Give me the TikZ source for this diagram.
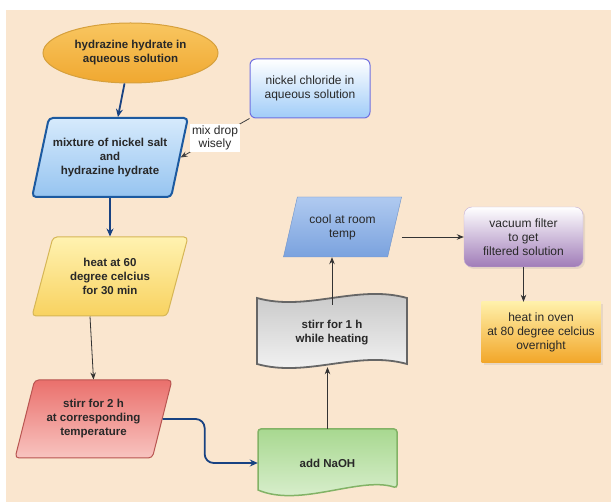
\documentclass[tikz,border=0pt]{standalone}
\usepackage{fontspec}
\setmainfont{Liberation Sans}
\usetikzlibrary{shapes.geometric,arrows.meta,shadows,calc}
\definecolor{bg}{RGB}{250,230,207}
\definecolor{elltop}{RGB}{248,198,96}
\definecolor{ellbot}{RGB}{240,168,48}
\definecolor{ellborder}{RGB}{214,160,60}
\definecolor{mixtop}{RGB}{214,234,252}
\definecolor{mixbot}{RGB}{150,196,240}
\definecolor{mixborder}{RGB}{28,90,160}
\definecolor{nictop}{RGB}{255,255,255}
\definecolor{nicbot}{RGB}{160,204,248}
\definecolor{nicborder}{RGB}{112,112,224}
\definecolor{heattop}{RGB}{255,242,176}
\definecolor{heatbot}{RGB}{248,210,96}
\definecolor{heatborder}{RGB}{214,182,86}
\definecolor{redtop}{RGB}{234,112,108}
\definecolor{redbot}{RGB}{248,196,192}
\definecolor{redborder}{RGB}{184,84,80}
\definecolor{greentop}{RGB}{168,216,144}
\definecolor{greenbot}{RGB}{224,242,214}
\definecolor{greenborder}{RGB}{130,179,102}
\definecolor{graytop}{RGB}{196,196,196}
\definecolor{graybot}{RGB}{246,246,246}
\definecolor{grayborder}{RGB}{102,102,102}
\definecolor{cooltop}{RGB}{176,202,240}
\definecolor{coolbot}{RGB}{122,162,222}
\definecolor{purptop}{RGB}{255,255,255}
\definecolor{purpbot}{RGB}{160,124,184}
\definecolor{oventop}{RGB}{255,240,170}
\definecolor{ovenbot}{RGB}{242,166,40}
\definecolor{arrowblue}{RGB}{24,66,130}
\definecolor{txtc}{RGB}{40,40,40}
\begin{document}
\begin{tikzpicture}[x=1pt,y=-1pt,
  txt/.style={font=\fontsize{12}{14}\selectfont, align=center, text=txtc},
  btxt/.style={font=\fontsize{11.5}{14}\selectfont\bfseries, align=center, text=txtc},
  para/.style={trapezium, trapezium left angle=68, trapezium right angle=112,
    trapezium stretches=true, inner sep=0pt},
  barrow/.style={draw=arrowblue, line width=1.8pt, -{Stealth[length=8pt,width=7pt]}},
  tarrow/.style={draw=black!80, line width=0.8pt, -{Stealth[length=7pt,width=5.5pt]}},
  softshadow/.style={drop shadow={opacity=0.15, shadow xshift=2pt, shadow yshift=-2pt}}]
\useasboundingbox[fill=white] (0,0) rectangle (611,502);
\fill[bg] (6,10) rectangle (611,502);

% nodes
\node[ellipse, btxt, minimum width=175, minimum height=60, inner sep=0pt,
  draw=ellborder, line width=1pt, top color=elltop, bottom color=ellbot]
  (hyd) at (130.5,53) {hydrazine hydrate in\\aqueous solution};

\node[rectangle, rounded corners=6, txt, minimum width=120, minimum height=59,
  draw=nicborder, line width=1pt, top color=nictop, bottom color=nicbot]
  (nic) at (310,88.5) {nickel chloride in\\aqueous solution};

\node[para, btxt, minimum width=156, minimum height=79, rounded corners=4,
  draw=mixborder, line width=2pt, top color=mixtop, bottom color=mixbot]
  (mix) at (110,157.5) {mixture of nickel salt\\and\\hydrazine hydrate};

\node[para, btxt, minimum width=156, minimum height=79, rounded corners=4,
  draw=heatborder, line width=1pt, top color=heattop, bottom color=heatbot]
  (heat) at (110,276.5) {heat at 60\\degree celcius\\for 30 min};

\node[para, btxt, minimum width=157, minimum height=78, rounded corners=4,
  draw=redborder, line width=1pt, top color=redtop, bottom color=redbot]
  (stir2) at (93.5,419) {stirr for 2 h\\at corresponding\\temperature};

% add NaOH (document shape)
\shade[top color=greentop, bottom color=greenbot, draw=greenborder, line width=1.5pt,
  rounded corners=3]
  (258,490) -- (258,429) -- (397,429) -- (397,488) [sharp corners]
  .. controls (360,476) and (300,508) .. (258,490) -- cycle;
\node[btxt, minimum width=139, minimum height=68, inner sep=0pt]
  (naoh) at (327.5,463) {add NaOH};

% stirr for 1 h (tape shape)
\shade[top color=graytop, bottom color=graybot, draw=grayborder, line width=1.8pt]
  (257,298) .. controls (307,312) and (357,284) .. (407,298) -- (407,364)
  .. controls (357,350) and (307,378) .. (257,364) -- cycle;
\node[btxt, minimum width=150, minimum height=66, inner sep=0pt]
  (stir1) at (332,333) {stirr for 1 h\\while heating};

\node[para, txt, minimum width=119, minimum height=60,
  draw=coolbot!90!black, line width=0.4pt, top color=cooltop, bottom color=coolbot]
  (cool) at (342.5,227) {cool at room\\temp};

\node[rectangle, rounded corners=8, txt, minimum width=119, minimum height=60,
  draw=purpbot!60, line width=0.4pt, top color=purptop, bottom color=purpbot, softshadow]
  (vac) at (523.5,237) {vacuum filter\\to get\\filtered solution};

\node[rectangle, txt, minimum width=119, minimum height=61,
  top color=oventop, bottom color=ovenbot, softshadow]
  (oven) at (541,332.5) {heat in oven\\at 80 degree celcius\\overnight};

% connectors
\draw[barrow] (hyd) -- (mix);
\draw[tarrow, draw=black!75] (nic.south west) -- node[txt, fill=white, inner sep=2pt,
  font=\fontsize{12}{13.5}\selectfont] (lbl) {mix drop\\wisely} (mix.east);
\draw[barrow] (mix) -- (heat);
\draw[tarrow] ($(heat.south)+(-20,0)$) -- (stir2.north);
\draw[barrow, rounded corners=9] (stir2.east) -- ++(42,0) |- (naoh.west);
\draw[tarrow] (naoh.north) -- ($(naoh.north |- stir1.south)+(0,1)$);
\draw[tarrow] ($(stir1.north)+(0,5)$) -- (stir1.north |- cool.south);
\draw[tarrow] ($(vac.west -| cool.east)+(7,0)$) -- (vac.west);
\draw[tarrow] (vac.south) -- (vac.south |- oven.north);
\end{tikzpicture}
\end{document}
